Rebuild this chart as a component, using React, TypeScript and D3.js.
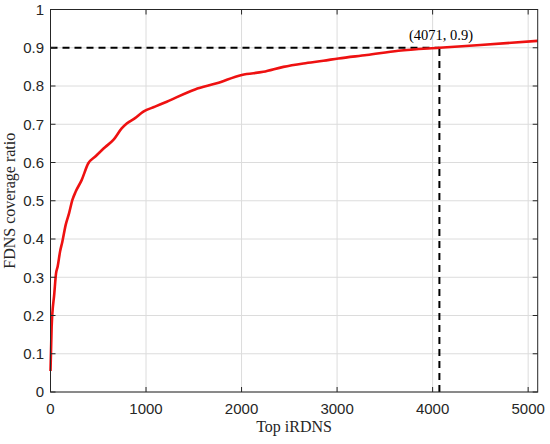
import React, { useEffect } from "react";
import * as d3 from "d3";

const topIRDNS = [0, 12, 40, 58, 75, 100, 124, 159, 194, 229, 264, 326, 396, 466, 571, 658, 745, 798, 885, 972, 1094, 1217, 1513, 1740, 2002, 2228, 2438, 2647, 2857, 3014, 3311, 3642, 4071, 4500, 5100];
const coverage = [0.055, 0.171, 0.258, 0.31, 0.328, 0.367, 0.393, 0.437, 0.467, 0.502, 0.524, 0.554, 0.598, 0.615, 0.64, 0.659, 0.689, 0.702, 0.716, 0.733, 0.746, 0.759, 0.791, 0.807, 0.829, 0.837, 0.85, 0.859, 0.866, 0.872, 0.881, 0.892, 0.9, 0.907, 0.918];
const xTicks = [0, 1000, 2000, 3000, 4000, 5000];
const yTicks = [0, 0.1, 0.2, 0.3, 0.4, 0.5, 0.6, 0.7, 0.8, 0.9, 1];
const markX = 4071;
const markY = 0.9;
const markLabel = "(4071, 0.9)";

const W = 550, H = 444;
const L = 50.5, R = 537.7, T = 9.5, B = 392;

export default function App() {
  useEffect(() => {
    document.body.style.margin = "0";
  }, []);
  const x = d3.scaleLinear().domain([0, 5100]).range([L, R]);
  const y = d3.scaleLinear().domain([0, 1]).range([B, T]);
  const pts: [number, number][] = topIRDNS.map((v, i) => [v, coverage[i]]);
  const line = d3.line<[number, number]>().x(d => x(d[0])).y(d => y(d[1])).curve(d3.curveMonotoneX);
  const axisColor = "#262626";
  const tickFont = "'Liberation Sans', Arial, sans-serif";
  const serif = "'Liberation Serif', 'Times New Roman', serif";
  return (
    <svg width={W} height={H} style={{ display: "block" }}>
      <rect x={0} y={0} width={W} height={H} fill="#fff" />
      {/* grid */}
      {xTicks.map(t => (
        <line key={"gx" + t} x1={x(t)} x2={x(t)} y1={T} y2={B} stroke="#dcdcdc" strokeWidth={1} />
      ))}
      {yTicks.map(t => (
        <line key={"gy" + t} x1={L} x2={R} y1={y(t)} y2={y(t)} stroke="#dcdcdc" strokeWidth={1} />
      ))}
      {/* dashed guides */}
      <line x1={x(0)} x2={x(markX)} y1={y(markY)} y2={y(markY)} stroke="#000" strokeWidth={2} strokeDasharray="7 5" />
      <line x1={x(markX)} x2={x(markX)} y1={y(0)} y2={y(markY)} stroke="#000" strokeWidth={2} strokeDasharray="7 5" />
      {/* curve */}
      <path d={line(pts) || ""} fill="none" stroke="#ee1111" strokeWidth={2.6} strokeLinejoin="round" />
      {/* box */}
      <rect x={L} y={T} width={R - L} height={B - T} fill="none" stroke={axisColor} strokeWidth={1} />
      {/* ticks */}
      {xTicks.map(t => (
        <g key={"tx" + t}>
          <line x1={x(t)} x2={x(t)} y1={B} y2={B - 5} stroke={axisColor} />
          <line x1={x(t)} x2={x(t)} y1={T} y2={T + 5} stroke={axisColor} />
          <text x={x(t)} y={414} textAnchor="middle" fontFamily={tickFont} fontSize={15} fill={axisColor}>{t}</text>
        </g>
      ))}
      {yTicks.map(t => (
        <g key={"ty" + t}>
          <line x1={L} x2={L + 5} y1={y(t)} y2={y(t)} stroke={axisColor} />
          <line x1={R} x2={R - 5} y1={y(t)} y2={y(t)} stroke={axisColor} />
          <text x={44} y={y(t) + 5.3} textAnchor="end" fontFamily={tickFont} fontSize={15} fill={axisColor}>{d3.format("~g")(t)}</text>
        </g>
      ))}
      {/* labels */}
      <text x={(L + R) / 2} y={432} textAnchor="middle" fontFamily={serif} fontSize={16} fill={axisColor}>Top iRDNS</text>
      <text transform={`translate(15,${(T + B) / 2}) rotate(-90)`} textAnchor="middle" fontFamily={serif} fontSize={16} fill={axisColor}>FDNS coverage ratio</text>
      <text x={441} y={40} textAnchor="middle" fontFamily={serif} fontSize={14.5} fill="#000">{markLabel}</text>
    </svg>
  );
}
